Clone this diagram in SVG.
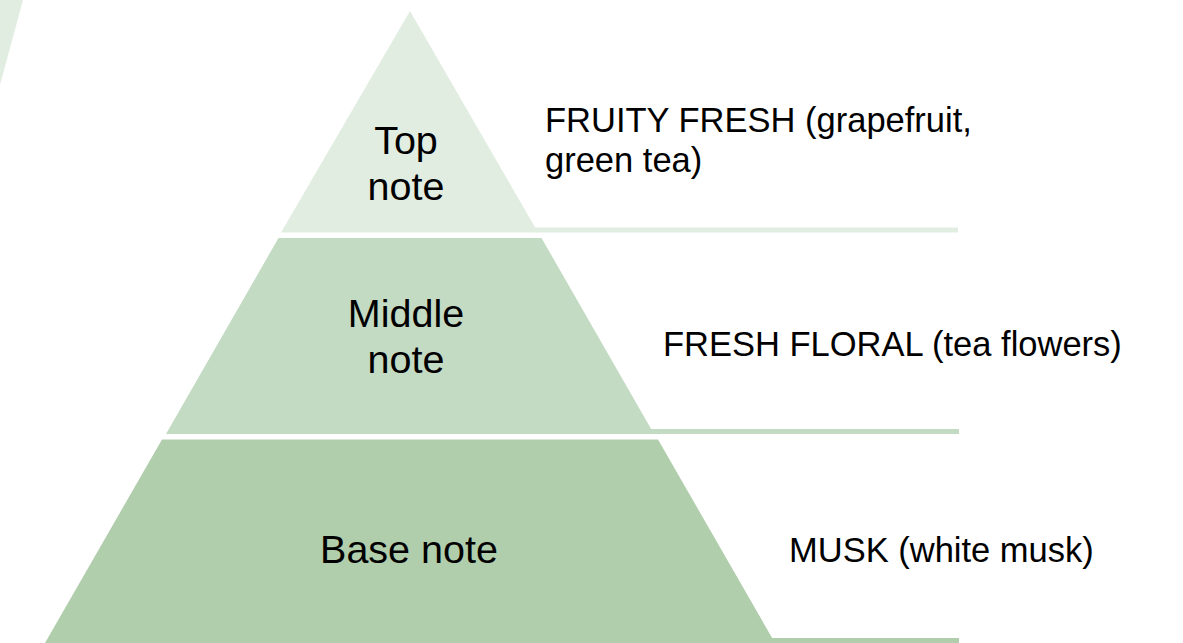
<svg xmlns="http://www.w3.org/2000/svg" width="1183" height="643" viewBox="0 0 1183 643">
<style>
.lbl{font-family:"Liberation Sans",Arial,sans-serif;font-size:39.5px;fill:#000;text-anchor:middle}
.desc{font-family:"Liberation Sans",Arial,sans-serif;font-size:34.5px;fill:#000}
.t1{fill:#e2ede1}
.t2{fill:#c3dac3}
.t3{fill:#b0cdac}
</style>
<rect x="0" y="0" width="1183" height="643" fill="#ffffff"/>
<polygon class="t1" points="0,0 23,0 0,85"/>
<g id="top-note">
<polygon class="t1" points="410,11 281,232.5 538,232.5"/>
<rect class="t1" x="535" y="227.5" width="423" height="5"/>
<text class="lbl" x="406" y="154">Top</text>
<text class="lbl" x="406" y="200">note</text>
<text class="desc" x="545" y="132">FRUITY FRESH (grapefruit,</text>
<text class="desc" x="545" y="172">green tea)</text>
</g>
<g id="middle-note">
<polygon class="t2" points="278.5,238 541.5,238 654,434 166,434"/>
<rect class="t2" x="650" y="429" width="309" height="5"/>
<text class="lbl" x="406" y="327">Middle</text>
<text class="lbl" x="406" y="373">note</text>
<text class="desc" x="663" y="356">FRESH FLORAL (tea flowers)</text>
</g>
<g id="base-note">
<polygon class="t3" points="162,439.5 658,439.5 775,643 45,643"/>
<rect class="t3" x="770" y="638" width="189" height="5"/>
<text class="lbl" x="409" y="563">Base note</text>
<text class="desc" x="789" y="562">MUSK (white musk)</text>
</g>
<g id="connectors"></g>
</svg>
